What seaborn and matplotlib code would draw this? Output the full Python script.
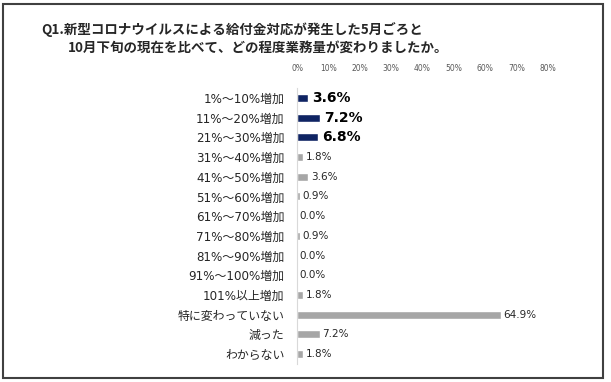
import pandas as pd
import matplotlib
matplotlib.use('Agg')
from matplotlib import pyplot as plt
from matplotlib.patches import Rectangle
import seaborn as sns

categories = ['1%～10%増加', '11%～20%増加', '21%～30%増加', '31%～40%増加', '41%～50%増加',
              '51%～60%増加', '61%～70%増加', '71%～80%増加', '81%～90%増加', '91%～100%増加',
              '101%以上増加', '特に変わっていない', '減った', 'わからない']
values = [3.6, 7.2, 6.8, 1.8, 3.6, 0.9, 0.0, 0.9, 0.0, 0.0, 1.8, 64.9, 7.2, 1.8]
highlight = [True, True, True] + [False] * 11
xticks = [0, 10, 20, 30, 40, 50, 60, 70, 80]

sns.set_style('white')
plt.rcParams['font.family'] = ['DejaVu Sans', 'Noto Sans CJK JP']

navy = '#0f2463'
gray = '#a6a6a6'
df = pd.DataFrame({'cat': categories, 'val': values})
pal = {c: (navy if h else gray) for c, h in zip(categories, highlight)}

W, H = 611, 382
fig = plt.figure(figsize=(W / 100, H / 100), dpi=100)
ax = fig.add_axes([297 / W, 1 - 364 / H, (548 - 297) / W, 276 / H])

sns.barplot(data=df, y='cat', x='val', hue='cat', palette=pal, legend=False,
            orient='h', width=0.4, ax=ax, saturation=1)

ax.set_xlim(0, 80)
ax.set_ylim(13.5, -0.5)
ax.set_xticks(xticks)
ax.set_xticklabels([f'{t}%' for t in xticks], fontsize=5.5, color='#595959')
ax.xaxis.tick_top()
ax.tick_params(axis='x', length=0, pad=11)
ax.tick_params(axis='y', length=0, pad=9, labelsize=8.6, labelcolor='#262626')
ax.set_xlabel('')
ax.set_ylabel('')
for s in ['top', 'right', 'bottom']:
    ax.spines[s].set_visible(False)
ax.spines['left'].set_color('#d9d9d9')
ax.spines['left'].set_linewidth(0.8)

for i, (v, h) in enumerate(zip(values, highlight)):
    if h:
        ax.text(v + 1.3, i, f'{v:.1f}%', va='center', ha='left', fontsize=10,
                fontweight='bold', color='#000000')
    else:
        ax.text(v + 0.9, i, f'{v:.1f}%', va='center', ha='left', fontsize=7.5,
                color='#262626')

title_font = ['Noto Sans CJK JP', 'DejaVu Sans']
fig.text(41 / W, 1 - 30 / H, 'Q1.新型コロナウイルスによる給付金対応が発生した5月ごろと',
         ha='left', va='center', fontsize=9.7, fontweight='bold', family=title_font)
fig.text(68 / W, 1 - 48 / H, '10月下旬の現在を比べて、どの程度業務量が変わりましたか。',
         ha='left', va='center', fontsize=9.7, fontweight='bold', family=title_font)

fig.patches.append(Rectangle((3 / W, 4 / H), 600 / W, 374 / H, transform=fig.transFigure,
                             fill=False, edgecolor='#404040', linewidth=1.5))

fig.savefig('out.png', dpi=100)
